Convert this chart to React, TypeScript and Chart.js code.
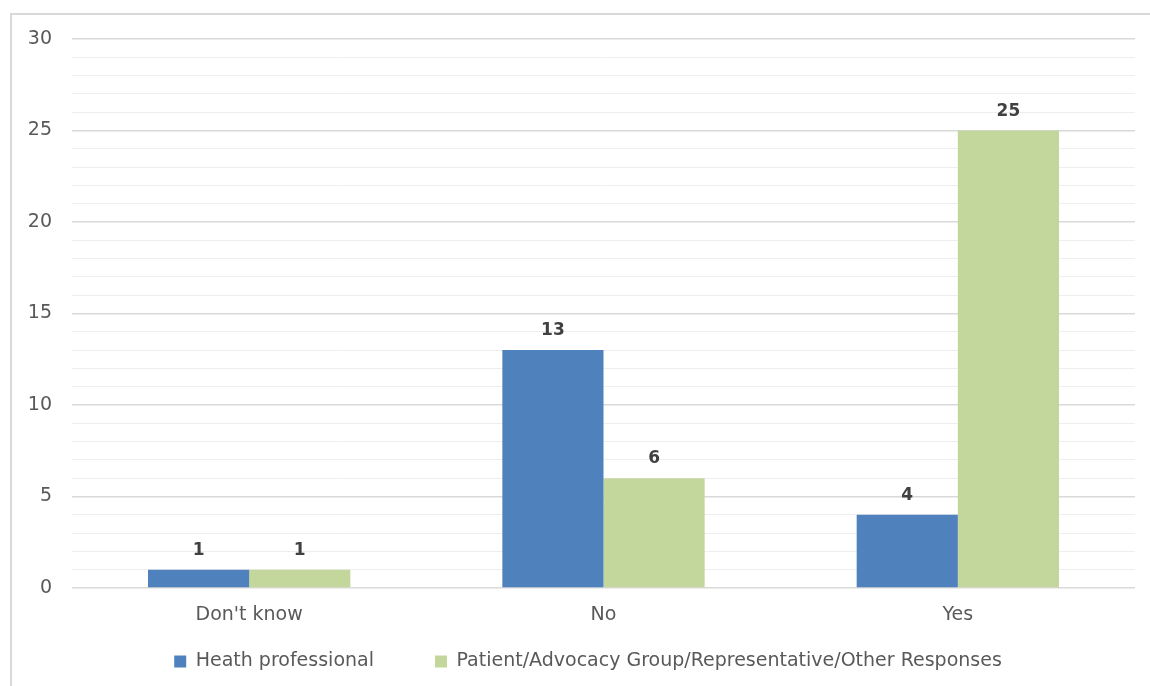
import React, { useEffect, useRef } from "react";
import { Chart, registerables } from "chart.js";

Chart.register(...registerables);

const categories = ["Don't know", "No", "Yes"];
const seriesNames = ["Heath professional", "Patient/Advocacy Group/Representative/Other Responses"];
const healthValues = [1, 13, 4];
const patientValues = [1, 6, 25];
const seriesColors = ["#4F81BD", "#C3D69B"];
const yMin = 0;
const yMax = 30;
const yMajorStep = 5;

const FONT = "'DejaVu Sans', 'Noto Sans', sans-serif";

const dataLabelPlugin = {
  id: "dataLabels",
  afterDatasetsDraw(chart: any) {
    const ctx = chart.ctx;
    ctx.save();
    ctx.font = `bold 17px ${FONT}`;
    ctx.fillStyle = "#404040";
    ctx.textAlign = "center";
    ctx.textBaseline = "alphabetic";
    chart.data.datasets.forEach((ds: any, di: number) => {
      const meta = chart.getDatasetMeta(di);
      meta.data.forEach((el: any, i: number) => {
        ctx.fillText(String(ds.data[i]), el.x, el.y - 15);
      });
    });
    ctx.restore();
  },
};

// widen the label clip areas of the axes so their labels can sit outside the slim boxes
const axisAreaPlugin = {
  id: "axisArea",
  afterLayout(chart: any) {
    const x = chart.scales.x;
    const y = chart.scales.y;
    if (x) x.bottom = chart.height;
    if (y) y.left = 0;
  },
};

export default function App() {
  const ref = useRef<HTMLCanvasElement | null>(null);

  useEffect(() => {
    if (!ref.current) return;
    const chart = new Chart(ref.current, {
      type: "bar",
      data: {
        labels: categories,
        datasets: [
          {
            label: seriesNames[0],
            data: healthValues,
            backgroundColor: seriesColors[0],
            barPercentage: 1,
            categoryPercentage: 0.571,
          },
          {
            label: seriesNames[1],
            data: patientValues,
            backgroundColor: seriesColors[1],
            barPercentage: 1,
            categoryPercentage: 0.571,
          },
        ],
      },
      options: {
        animation: false,
        responsive: false,
        maintainAspectRatio: false,
        layout: { padding: { top: 39, right: 15, bottom: 5, left: 41 } },
        plugins: {
          tooltip: { enabled: false },
          legend: {
            position: "bottom",
            labels: {
              boxWidth: 12,
              boxHeight: 12,
              padding: 61,
              color: "#595959",
              font: { family: FONT, size: 19 },
            },
          },
        },
        scales: {
          x: {
            grid: { display: false, drawTicks: false },
            border: { display: false },
            ticks: {
              color: "#595959",
              padding: 16,
              font: { family: FONT, size: 19 },
            },
            afterFit: (scale: any) => {
              scale.height = 3;
            },
          },
          y: {
            min: yMin,
            max: yMax,
            border: { display: false },
            grid: {
              drawTicks: false,
              color: (c: any) => (c.tick && c.tick.value % yMajorStep === 0 ? "#d9d9d9" : "#eeeeee"),
              lineWidth: (c: any) => (c.tick && c.tick.value % yMajorStep === 0 ? 1.5 : 1),
            },
            ticks: {
              stepSize: 1,
              autoSkip: false,
              padding: 20,
              color: "#595959",
              font: { family: FONT, size: 19 },
              callback: (v: any) => (Number(v) % yMajorStep === 0 ? String(v) : ""),
            },
            afterFit: (scale: any) => {
              scale.width = 31;
            },
          },
        },
      },
      plugins: [dataLabelPlugin, axisAreaPlugin],
    });
    return () => chart.destroy();
  }, []);

  return (
    <div style={{ position: "fixed", left: 0, top: 0, width: 1150, height: 686, overflow: "hidden", background: "#fff" }}>
      <div
        style={{
          position: "absolute",
          left: 10,
          top: 13,
          width: 1200,
          height: 720,
          border: "2px solid #d9d9d9",
          boxSizing: "border-box",
        }}
      />
      <canvas ref={ref} width={1150} height={686} style={{ position: "absolute", left: 0, top: 0, width: 1150, height: 686 }} />
    </div>
  );
}
